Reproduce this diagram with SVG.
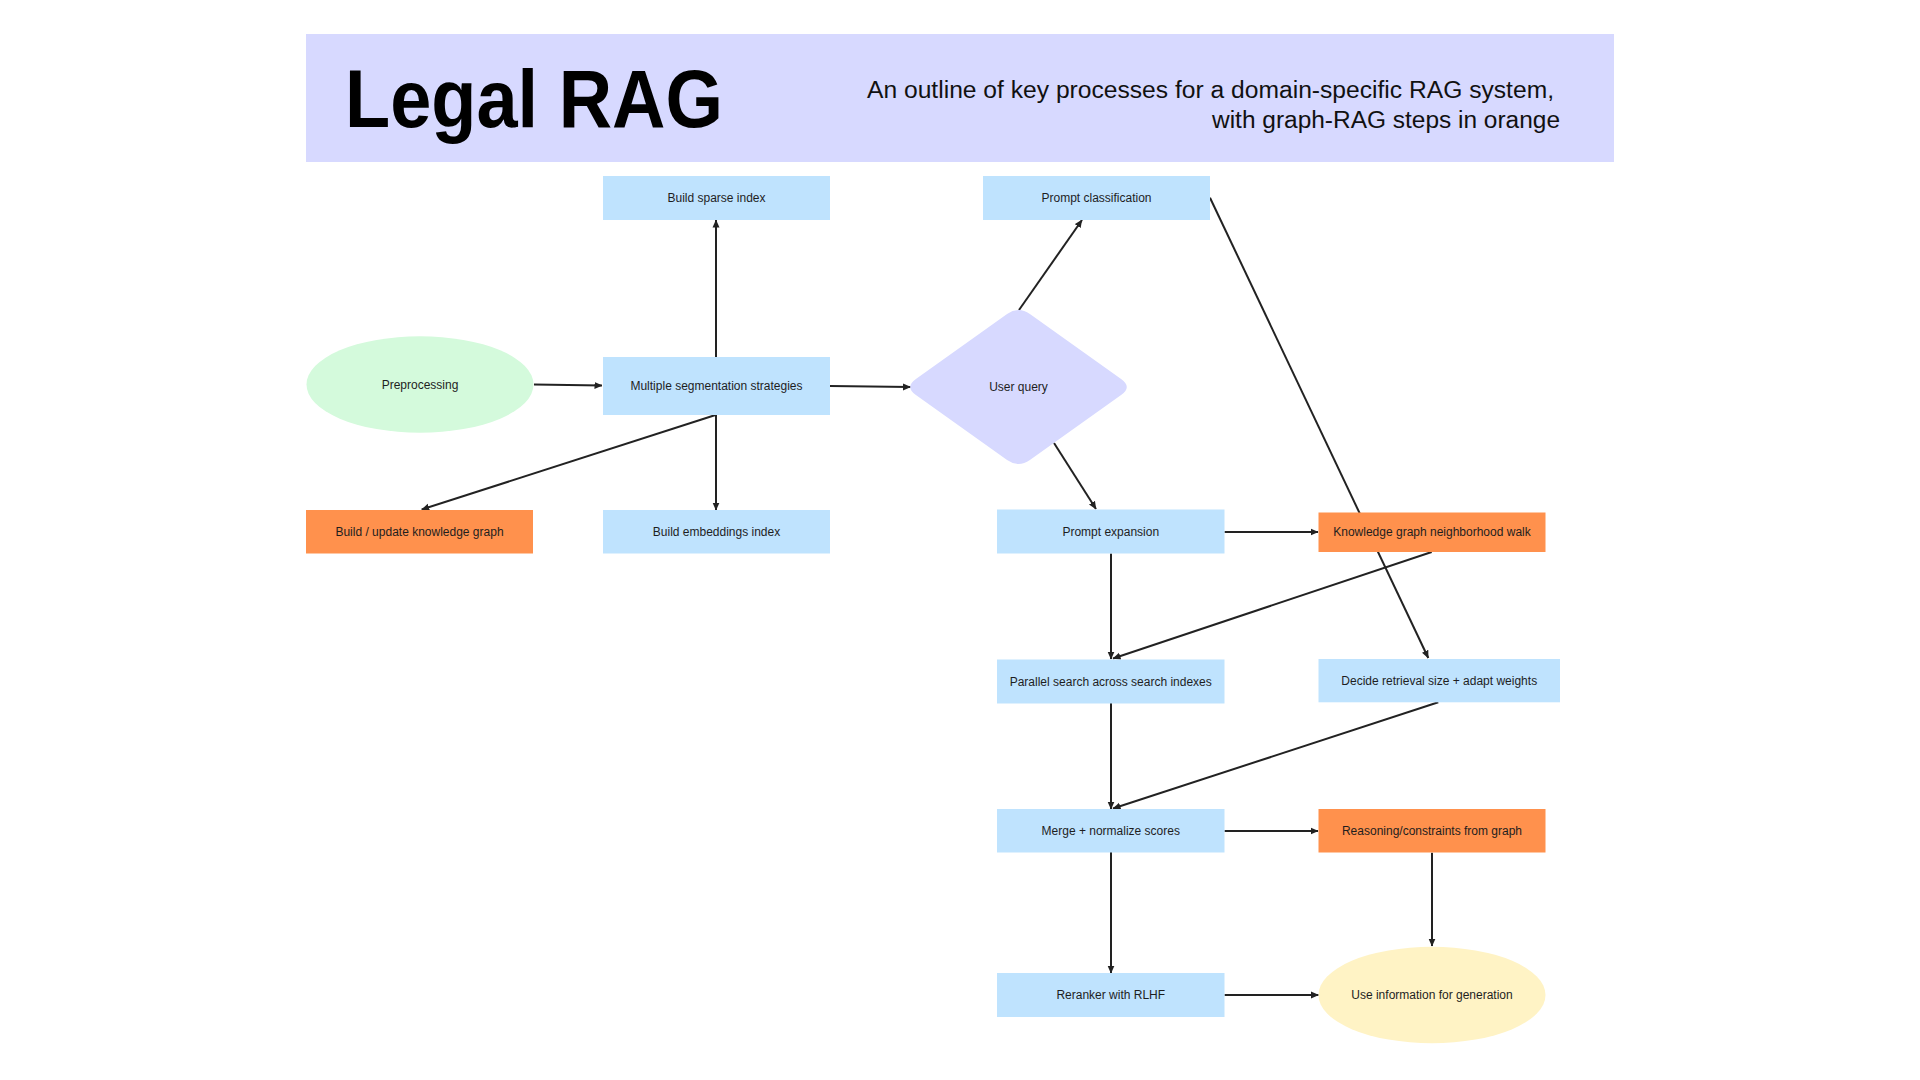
<svg xmlns="http://www.w3.org/2000/svg" width="1920" height="1080" viewBox="0 0 1920 1080">
<defs>
<style>
.box{fill:#BFE3FE}
.kg{fill:#FF914D}
.lbl{font-family:"Liberation Sans",Arial,sans-serif;font-size:12px;fill:#1e1e1e;text-anchor:middle;dominant-baseline:central}
.edge{stroke:#222;stroke-width:2;fill:none}
.arr{marker-end:url(#ah)}
</style>
<marker id="ah" markerUnits="userSpaceOnUse" viewBox="0 0 8 8" refX="7.5" refY="4" markerWidth="8" markerHeight="8" orient="auto">
<path d="M0,0.5 L8,4 L0,7.5 z" fill="#222"/>
</marker>
</defs>
<rect width="1920" height="1080" fill="#ffffff"/>
<g id="header">
<rect x="306" y="34" width="1308" height="128" fill="#D7D9FF"/>
<text x="345" y="127" font-family="'Liberation Sans',Arial,sans-serif" font-weight="bold" font-size="82" fill="#000" textLength="378" lengthAdjust="spacingAndGlyphs">Legal RAG</text>
<text x="867" y="98" font-family="'Liberation Sans',Arial,sans-serif" font-size="23" fill="#111" textLength="687" lengthAdjust="spacingAndGlyphs">An outline of key processes for a domain-specific RAG system,</text>
<text x="1560" y="128" font-family="'Liberation Sans',Arial,sans-serif" font-size="23" fill="#111" text-anchor="end" textLength="348" lengthAdjust="spacingAndGlyphs">with graph-RAG steps in orange</text>
</g>
<g id="connectors">
<line class="edge arr" x1="534" y1="384.5" x2="602" y2="385.5"/>
<line class="edge arr" x1="716" y1="357" x2="716" y2="220"/>
<line class="edge arr" x1="716" y1="415" x2="716" y2="510"/>
<line class="edge arr" x1="715.5" y1="415" x2="421.7" y2="509.5"/>
<line class="edge arr" x1="830" y1="386" x2="910.5" y2="387"/>
<line class="edge arr" x1="1019" y1="310" x2="1082" y2="220"/>
<line class="edge arr" x1="1054" y1="443" x2="1096" y2="509"/>
<line class="edge arr" x1="1210" y1="197.7" x2="1428.3" y2="658"/>
<line class="edge arr" x1="1224.5" y1="532" x2="1318" y2="532"/>
<line class="edge arr" x1="1111" y1="553.5" x2="1111" y2="659"/>
<line class="edge arr" x1="1431.7" y1="552" x2="1113" y2="658.5"/>
<line class="edge arr" x1="1111" y1="703" x2="1111" y2="809"/>
<line class="edge arr" x1="1438.3" y1="702.3" x2="1113" y2="808.5"/>
<line class="edge arr" x1="1224.5" y1="831" x2="1318" y2="831"/>
<line class="edge arr" x1="1111" y1="852" x2="1111" y2="973"/>
<line class="edge arr" x1="1432" y1="852.7" x2="1432" y2="946"/>
<line class="edge arr" x1="1224.5" y1="995" x2="1318.5" y2="995"/>
</g>
<g id="n-preprocessing">
<ellipse cx="420" cy="384.5" rx="113.5" ry="48.3" fill="#D4FADC"/>
<text class="lbl" x="420" y="384.5">Preprocessing</text>
</g>
<g id="n-sparse">
<rect class="box" x="603" y="176" width="227" height="44"/>
<text class="lbl" x="716.5" y="198">Build sparse index</text>
</g>
<g id="n-segmentation">
<rect class="box" x="603" y="357" width="227" height="58"/>
<text class="lbl" x="716.5" y="386">Multiple segmentation strategies</text>
</g>
<g id="n-kgbuild">
<rect class="kg" x="306" y="510" width="227" height="43.5"/>
<text class="lbl" x="419.5" y="531.5">Build / update knowledge graph</text>
</g>
<g id="n-embeddings">
<rect class="box" x="603" y="510" width="227" height="43.5"/>
<text class="lbl" x="716.5" y="531.5">Build embeddings index</text>
</g>
<g id="n-userquery">
<path d="M 915.91 378.89 L 1007.09 314.11 Q 1018.5 306 1029.91 314.11 L 1121.09 378.89 Q 1132.5 387 1121.09 395.11 L 1029.91 459.89 Q 1018.5 468 1007.09 459.89 L 915.91 395.11 Q 904.5 387 915.91 378.89 Z" fill="#D7D9FF"/>
<text class="lbl" x="1018.5" y="387">User query</text>
</g>
<g id="n-classification">
<rect class="box" x="983" y="176" width="227" height="44"/>
<text class="lbl" x="1096.5" y="198">Prompt classification</text>
</g>
<g id="n-expansion">
<rect class="box" x="997" y="509.5" width="227.5" height="44"/>
<text class="lbl" x="1110.75" y="531.5">Prompt expansion</text>
</g>
<g id="n-kgwalk">
<rect class="kg" x="1318.5" y="512.5" width="227" height="39.5"/>
<text class="lbl" x="1432" y="532.3">Knowledge graph neighborhood walk</text>
</g>
<g id="n-parallel">
<rect class="box" x="997" y="659.5" width="227.5" height="44"/>
<text class="lbl" x="1110.75" y="681.5">Parallel search across search indexes</text>
</g>
<g id="n-decide">
<rect class="box" x="1318.5" y="659" width="241.5" height="43.3"/>
<text class="lbl" x="1439.25" y="680.6">Decide retrieval size + adapt weights</text>
</g>
<g id="n-merge">
<rect class="box" x="997" y="809" width="227.5" height="43.5"/>
<text class="lbl" x="1110.75" y="830.7">Merge + normalize scores</text>
</g>
<g id="n-reasoning">
<rect class="kg" x="1318.5" y="809" width="227" height="43.5"/>
<text class="lbl" x="1432" y="830.7">Reasoning/constraints from graph</text>
</g>
<g id="n-reranker">
<rect class="box" x="997" y="973" width="227.5" height="44"/>
<text class="lbl" x="1110.75" y="995">Reranker with RLHF</text>
</g>
<g id="n-generation">
<ellipse cx="1432" cy="995" rx="113.5" ry="48.3" fill="#FFF3C5"/>
<text class="lbl" x="1432" y="995">Use information for generation</text>
</g>
</svg>
